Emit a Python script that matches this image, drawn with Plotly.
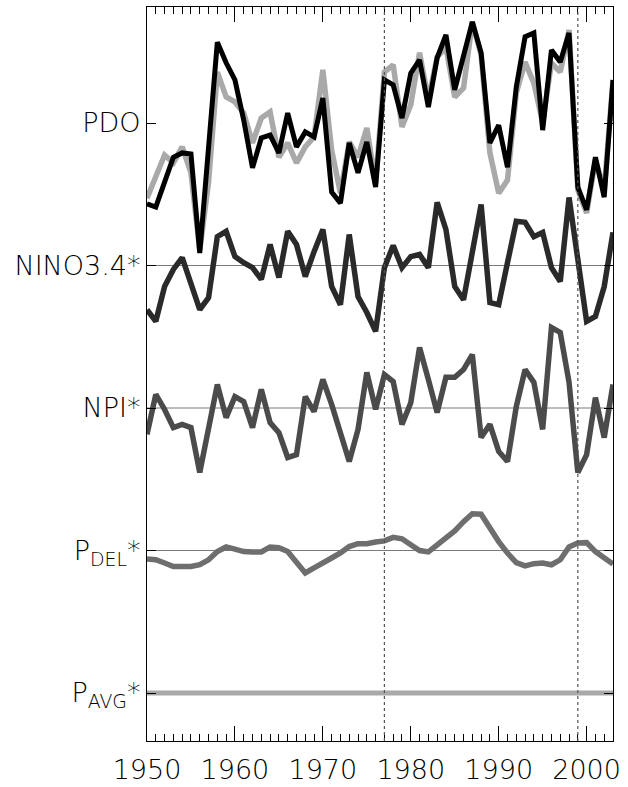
import plotly.graph_objects as go

years = list(range(1950, 2004))

pdo_black = [-2.27, -2.36, -1.66, -0.96, -0.84, -0.87, -3.65, -0.62, 2.27, 1.69,
             1.21, 0.08, -1.26, -0.42, -0.34, -0.84, 0.28, -0.67, -0.25, -0.39,
             0.70, -1.94, -2.25, -0.56, -1.40, -0.53, -1.80, 1.21, 1.07, 0.14,
             1.40, 1.77, 0.45, 1.83, 2.47, 0.93, 1.91, 2.84, 1.97, -0.56,
             -0.06, -1.24, 1.01, 2.42, 2.53, -0.20, 2.05, 1.71, 2.53, -1.80,
             -2.44, -0.96, -2.08, 1.21]

pdo_gray = [-2.11, -1.52, -0.90, -1.12, -0.67, -1.40, -3.57, -1.66, 1.43, 0.73,
            0.59, 0.28, -0.56, 0.14, 0.31, -0.96, -0.56, -1.12, -0.67, -0.39,
            1.49, -0.76, -1.97, -0.53, -0.96, -0.14, -1.69, 1.43, 1.63, -0.11,
            0.51, 1.97, 0.65, 1.85, 2.13, 0.73, 0.98, 2.84, 1.91, -0.84,
            -1.97, -1.60, 0.84, 1.71, 1.12, 0.00, 1.69, 1.43, 2.61, -1.88,
            -2.53, -1.04, -1.88, 1.21]

nino34 = [-1.24, -1.57, -0.59, -0.11, 0.22, -0.48, -1.24, -0.90, 0.81, 0.96,
          0.25, 0.08, -0.06, -0.39, 0.59, -0.34, 0.96, 0.59, -0.31, 0.39,
          1.01, -0.59, -1.10, 0.87, -0.87, -1.32, -1.85, -0.06, 0.56, -0.06,
          0.25, 0.31, -0.06, 1.77, 1.01, -0.59, -0.96, 0.37, 1.71, -1.04,
          -1.10, 0.08, 1.24, 1.21, 0.81, 0.93, -0.06, -0.45, 1.91, 0.17,
          -1.57, -1.43, -0.59, 0.93]

npi = [-0.74, 0.38, -0.04, -0.55, -0.46, -0.55, -1.81, -0.66, 0.66, -0.27,
       0.32, 0.18, -0.55, 0.52, -0.41, -0.69, -1.39, -1.31, 0.32, -0.10,
       0.80, 0.10, -0.69, -1.50, -0.60, 1.00, -0.04, 0.94, 0.74, -0.46,
       0.15, 1.70, 0.80, -0.13, 0.86, 0.86, 1.08, 1.50, -0.83, -0.46,
       -1.22, -1.50, 0.04, 1.08, 0.72, -0.60, 2.26, 2.12, 0.72, -1.81,
       -1.31, 0.29, -0.83, 0.66]

pdel = [-0.24, -0.26, -0.35, -0.45, -0.45, -0.45, -0.40, -0.26, -0.03, 0.10,
        0.04, -0.03, -0.04, -0.04, 0.10, 0.08, -0.03, -0.35, -0.63, -0.49,
        -0.33, -0.21, -0.07, 0.11, 0.19, 0.19, 0.24, 0.27, 0.37, 0.33,
        0.16, 0.00, -0.04, 0.16, 0.37, 0.55, 0.81, 1.03, 1.02, 0.63,
        0.25, -0.07, -0.34, -0.43, -0.37, -0.35, -0.40, -0.26, 0.10, 0.21,
        0.22, -0.03, -0.21, -0.38]

pavg = [0.0, 0.0, 0.0, 0.0, 0.0, 0.0, 0.0, 0.0, 0.0, 0.0,
        0.0, 0.0, 0.0, 0.0, 0.0, 0.0, 0.0, 0.0, 0.0, 0.0,
        0.0, 0.0, 0.0, 0.0, 0.0, 0.0, 0.0, 0.0, 0.0, 0.0,
        0.0, 0.0, 0.0, 0.0, 0.0, 0.0, 0.0, 0.0, 0.0, 0.0,
        0.0, 0.0, 0.0, 0.0, 0.0, 0.0, 0.0, 0.0, 0.0, 0.0,
        0.0, 0.0, 0.0, 0.0]

series_labels = ["PDO", "NINO3.4*", "NPI*", "P<sub>DEL</sub>*", "P<sub>AVG</sub>*"]
series_offsets = [16, 12, 8, 4, 0]
x_tick_years = [1950, 1960, 1970, 1980, 1990, 2000]
shift_years = [1977, 1999]

FONT = "DejaVu Sans"

fig = go.Figure()

def add_line(vals, offset, color, width):
    fig.add_trace(go.Scatter(
        x=years, y=[v + offset for v in vals], mode="lines",
        line=dict(color=color, width=width), showlegend=False, hoverinfo="skip"))

add_line(pavg, series_offsets[4], "#a9a9a9", 5)
add_line(pdel, series_offsets[3], "#6e6e6e", 5.5)
add_line(npi, series_offsets[2], "#4b4b4b", 5.5)
add_line(nino34, series_offsets[1], "#2a2a2a", 5.5)
add_line(pdo_gray, series_offsets[0], "#a9a9a9", 5.5)
add_line(pdo_black, series_offsets[0], "#000000", 5)

# horizontal reference lines
for off in series_offsets[1:4]:
    fig.add_shape(type="line", xref="x", yref="y", x0=1950, x1=2003, y0=off, y1=off,
                  line=dict(color="#7a7a7a", width=1.2), layer="below")

# regime-shift dotted lines
for yr in shift_years:
    fig.add_shape(type="line", xref="x", yref="paper", x0=yr, x1=yr, y0=0, y1=1,
                  line=dict(color="#555555", width=1.2, dash="dot"), layer="above")

fig.update_xaxes(
    range=[1950, 2003], showgrid=False, zeroline=False, automargin=False,
    showline=True, linecolor="#000000", linewidth=1.2, mirror="ticks",
    tickmode="array", tickvals=x_tick_years, ticktext=[str(y) for y in x_tick_years],
    ticks="inside", ticklen=15, tickwidth=1, tickcolor="#000000",
    minor=dict(dtick=1, tick0=1950, ticks="inside", ticklen=7, tickwidth=1, tickcolor="#000000"),
    tickfont=dict(family=FONT, size=27, color="#000000", weight=200),
    ticklabelstandoff=4,
)
fig.update_yaxes(
    range=[-1.347, 19.256], showgrid=False, zeroline=False, automargin=False,
    showline=True, linecolor="#000000", linewidth=1.2, mirror="ticks",
    tickmode="array", tickvals=series_offsets, ticktext=series_labels,
    ticks="inside", ticklen=9, tickwidth=1, tickcolor="#000000",
    tickfont=dict(family=FONT, size=27, color="#000000", weight=200),
    ticklabelstandoff=0,
)

fig.update_layout(
    width=628, height=787,
    margin=dict(l=147, r=15, t=7, b=46, pad=0),
    plot_bgcolor="#ffffff", paper_bgcolor="#ffffff",
    showlegend=False,
)

fig.write_html("out.html")
